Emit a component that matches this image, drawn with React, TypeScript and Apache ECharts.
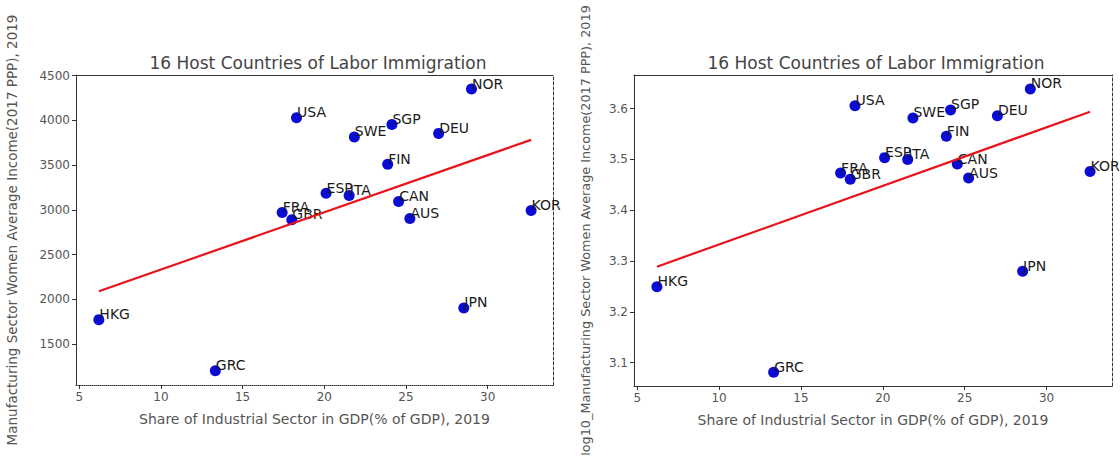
import React, { useEffect, useRef } from "react";
import * as echarts from "echarts";

const countries = ["USA", "NOR", "SGP", "SWE", "DEU", "FIN", "ESP", "ITA", "CAN", "FRA", "GBR", "AUS", "KOR", "HKG", "JPN", "GRC"];
const industryShare = [18.3, 29.01, 24.14, 21.84, 27.0, 23.88, 20.11, 21.52, 24.55, 17.42, 18.01, 25.24, 32.66, 6.2, 28.54, 13.33];
const womenIncome = [4030, 4350, 3955, 3815, 3855, 3510, 3187, 3162, 3095, 2972, 2890, 2905, 2994, 1775, 1905, 1205];
const xTicks = [5, 10, 15, 20, 25, 30];
const yTicksLeft = [1500, 2000, 2500, 3000, 3500, 4000, 4500];
const yTicksRight = [3.1, 3.2, 3.3, 3.4, 3.5, 3.6];

const titleText = "16 Host Countries of Labor Immigration";
const xName = "Share of Industrial Sector in GDP(% of GDP), 2019";
const yNameLeft = "Manufacturing Sector Women Average Income(2017 PPP), 2019";
const yNameRight = "log10_Manufacturing Sector Women Average Income(2017 PPP), 2019";

const FONT = "DejaVu Sans";
const AXIS_COLOR = "#333";
const TEXT_GRAY = "#555";
const DOT = "#0b0bd6";

function fitLine(xs: number[], ys: number[]) {
  const n = xs.length;
  const mx = xs.reduce((a, b) => a + b, 0) / n;
  const my = ys.reduce((a, b) => a + b, 0) / n;
  let sxy = 0, sxx = 0;
  for (let i = 0; i < n; i++) {
    sxy += (xs[i] - mx) * (ys[i] - my);
    sxx += (xs[i] - mx) * (xs[i] - mx);
  }
  const b = sxy / sxx;
  const a = my - b * mx;
  const x0 = Math.min(...xs);
  const x1 = Math.max(...xs);
  return [[x0, a + b * x0], [x1, a + b * x1]];
}

export default function App() {
  const ref = useRef<HTMLDivElement>(null);
  useEffect(() => {
    if (!ref.current) return;
    const chart = echarts.init(ref.current, undefined, { renderer: "svg" });
    const logIncome = womenIncome.map((v) => Math.log10(v));
    const grids = [
      { left: 76, top: 75, width: 477, height: 310 },
      { left: 634, top: 75, width: 478, height: 311 },
    ];
    const yRanges = [
      { min: 1045, max: 4507, ticks: yTicksLeft, name: yNameLeft, gap: 57, nameSize: 13.5, bottomDotted: true },
      { min: 3.054, max: 3.666, ticks: yTicksRight, name: yNameRight, gap: 42, nameSize: 12.8, bottomDotted: false },
    ];
    const xAxes: any[] = [];
    const yAxes: any[] = [];
    yRanges.forEach((r, g) => {
      xAxes.push({
        type: "value",
        gridIndex: g,
        position: "bottom",
        min: 4.8,
        max: 34.0,
        splitLine: { show: false },
        axisLine: { show: true, onZero: false, lineStyle: { color: AXIS_COLOR, width: 1, type: r.bottomDotted ? "dotted" : "solid" } },
        axisTick: { show: true, length: 4, customValues: xTicks, lineStyle: { color: AXIS_COLOR } },
        axisLabel: { customValues: xTicks, color: TEXT_GRAY, fontSize: 12, fontFamily: FONT, margin: 6 },
        name: xName,
        nameLocation: "middle",
        nameGap: 27,
        nameTextStyle: { color: TEXT_GRAY, fontSize: 14, fontFamily: FONT },
      });
      xAxes.push({
        type: "value",
        gridIndex: g,
        position: "top",
        min: 4.8,
        max: 34.0,
        splitLine: { show: false },
        axisLine: { show: true, onZero: false, lineStyle: { color: AXIS_COLOR, width: 1 } },
        axisTick: { show: false },
        axisLabel: { show: false },
      });
      yAxes.push({
        type: "value",
        gridIndex: g,
        position: "left",
        min: r.min,
        max: r.max,
        splitLine: { show: false },
        axisLine: { show: true, onZero: false, lineStyle: { color: AXIS_COLOR, width: 1 } },
        axisTick: { show: true, length: 4, customValues: r.ticks, lineStyle: { color: AXIS_COLOR } },
        axisLabel: {
          customValues: r.ticks,
          color: TEXT_GRAY,
          fontSize: 12,
          fontFamily: FONT,
          margin: 6,
          formatter: (v: number) => (g === 1 ? v.toFixed(1) : String(Math.round(v))),
        },
        name: r.name,
        nameLocation: "middle",
        nameGap: r.gap,
        nameTextStyle: { color: TEXT_GRAY, fontSize: r.nameSize, fontFamily: FONT },
      });
      yAxes.push({
        type: "value",
        gridIndex: g,
        position: "right",
        min: r.min,
        max: r.max,
        splitLine: { show: false },
        axisLine: { show: true, onZero: false, lineStyle: { color: AXIS_COLOR, width: 1, type: [3, 2] } },
        axisTick: { show: false },
        axisLabel: { show: false },
      });
    });

    const ySets = [womenIncome, logIncome];
    const series: any[] = [];
    ySets.forEach((ys, g) => {
      series.push({
        type: "scatter",
        xAxisIndex: g * 2,
        yAxisIndex: g * 2,
        symbolSize: 11,
        itemStyle: { color: DOT, opacity: 1 },
        data: industryShare.map((x, i) => [x, ys[i], countries[i]]),
        label: {
          show: true,
          formatter: (p: any) => p.value[2],
          position: [6, 7],
          align: "left",
          verticalAlign: "bottom",
          color: "#1a1a1a",
          fontSize: 14,
          fontFamily: FONT,
        },
        z: 2,
      });
      series.push({
        type: "line",
        xAxisIndex: g * 2,
        yAxisIndex: g * 2,
        data: fitLine(industryShare, ys),
        showSymbol: false,
        symbol: "none",
        lineStyle: { color: "#e8141c", width: 2.2 },
        z: 3,
      });
    });

    chart.setOption({
      animation: false,
      backgroundColor: "#fff",
      title: [
        { text: titleText, left: 313, top: 49, textAlign: "center", textStyle: { color: "#444", fontSize: 17, fontWeight: "normal", fontFamily: FONT } },
        { text: titleText, left: 871, top: 49, textAlign: "center", textStyle: { color: "#444", fontSize: 17, fontWeight: "normal", fontFamily: FONT } },
      ],
      grid: grids,
      xAxis: xAxes,
      yAxis: yAxes,
      series,
    });
    return () => chart.dispose();
  }, []);
  return <div ref={ref} style={{ position: "absolute", left: 0, top: 0, width: 1120, height: 458, background: "#fff" }} />;
}
